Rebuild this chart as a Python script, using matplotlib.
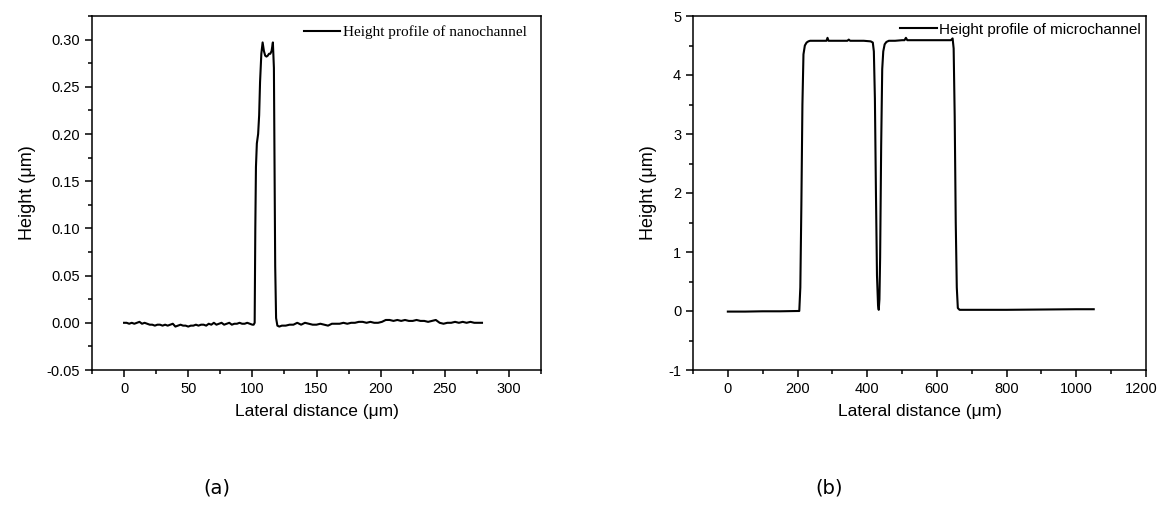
import matplotlib
matplotlib.use("Agg")
import matplotlib.pyplot as plt
from matplotlib.ticker import MultipleLocator, FormatStrFormatter, FuncFormatter

# ---------------- data ----------------
nano_x = [0, 2, 4, 6, 8, 10, 12, 14, 16, 18, 20, 22, 24, 26, 28, 30, 32, 34, 36, 38,
          40, 42, 44, 46, 48, 50, 52, 54, 56, 58, 60, 62, 64, 66, 68, 70, 72, 74, 76, 78,
          80, 82, 84, 86, 88, 90, 92, 94, 96, 98, 100,
          101, 101.8, 102.3, 102.8, 103.5, 104.5, 105.3, 106, 107, 108, 109, 110, 111, 112,
          113, 114, 115, 116, 116.8, 117.3, 117.8, 118.5, 119.5, 121, 123,
          126, 129, 132, 135, 138, 141, 144, 147, 150, 153, 156, 159, 162, 165, 168, 171,
          174, 177, 180, 183, 186, 189, 192, 195, 198, 201, 204, 207, 210, 213, 216, 219,
          222, 225, 228, 231, 234, 237, 240, 243, 246, 249, 252, 255, 258, 261, 264, 267,
          270, 273, 276, 279]
nano_y = [0.000, 0.000, -0.001, 0.000, -0.001, 0.000, 0.001, -0.001, 0.000, -0.001,
          -0.002, -0.002, -0.003, -0.002, -0.002, -0.003, -0.002, -0.003, -0.002, -0.001,
          -0.004, -0.003, -0.002, -0.003, -0.003, -0.004, -0.003, -0.003, -0.002, -0.003,
          -0.002, -0.002, -0.003, -0.001, -0.002, 0.000, -0.002, -0.001, 0.000, -0.002,
          -0.001, 0.000, -0.002, -0.001, -0.001, 0.000, -0.001, -0.001, 0.000, -0.001, -0.002,
          -0.002, 0.000, 0.100, 0.165, 0.190, 0.200, 0.220, 0.255, 0.285, 0.297, 0.288,
          0.283, 0.282, 0.283, 0.285, 0.285, 0.288, 0.297, 0.270, 0.170, 0.060, 0.005,
          -0.003, -0.004, -0.003,
          -0.003, -0.002, -0.002, 0.000, -0.002, 0.000, -0.001, -0.002, -0.002, -0.001,
          -0.002, -0.003, -0.001, -0.001, -0.001, 0.000, -0.001, 0.000, 0.000, 0.001,
          0.001, 0.000, 0.001, 0.000, 0.000, 0.001, 0.003, 0.003, 0.002, 0.003, 0.002,
          0.003, 0.002, 0.002, 0.003, 0.002, 0.002, 0.001, 0.002, 0.003, 0.000, -0.001,
          0.000, 0.000, 0.001, 0.000, 0.001, 0.000, 0.001, 0.000, 0.000, 0.000]

micro_x = [0, 50, 100, 150, 200, 205, 208, 211, 214, 217, 221, 226, 231, 236, 250, 270,
           283, 286, 289, 300, 320, 343, 347, 351, 370, 390, 410, 416, 419, 422, 425, 428,
           431, 433, 435, 437, 440, 443, 446, 450, 455, 462, 480, 500, 507, 511, 515, 540,
           580, 620, 640, 645, 648, 651, 654, 657, 660, 665, 700, 800, 900, 1000, 1050]
micro_y = [-0.01, -0.01, -0.005, -0.005, 0.0, 0.0, 0.4, 1.8, 3.5, 4.35, 4.5, 4.55, 4.57,
           4.58, 4.58, 4.58, 4.58, 4.63, 4.58, 4.58, 4.58, 4.58, 4.60, 4.58, 4.58, 4.58,
           4.57, 4.55, 4.4, 3.6, 2.0, 0.6, 0.1, 0.02, 0.2, 0.9, 2.8, 4.1, 4.4, 4.52, 4.56,
           4.58, 4.58, 4.59, 4.59, 4.63, 4.59, 4.59, 4.59, 4.59, 4.59, 4.62, 4.45, 3.3, 1.5,
           0.4, 0.05, 0.02, 0.02, 0.02, 0.025, 0.03, 0.03]

nano_label = "Height profile of nanochannel"
micro_label = "Height profile of microchannel"
xlabel = "Lateral distance (\u03bcm)"
ylabel = "Height (\u03bcm)"
captions = ["(a)", "(b)"]
micro_xmax = 1200

# ---------------- figure ----------------
W, H = 1159, 523
fig = plt.figure(figsize=(W / 100, H / 100), dpi=100)
plt.rcParams['font.family'] = ['Liberation Sans', 'DejaVu Sans']
plt.rcParams['axes.unicode_minus'] = False


def box(x0, y0, x1, y1):
    return [x0 / W, 1 - y1 / H, (x1 - x0) / W, (y1 - y0) / H]


axA = fig.add_axes(box(92, 16, 541, 370))
axB = fig.add_axes(box(693, 16, 1146, 370))

lnA, = axA.plot(nano_x, nano_y, color='black', lw=1.5)
lnB, = axB.plot(micro_x, micro_y, color='black', lw=1.5)

axA.set_xlim(-25, 325)
axA.set_ylim(-0.05, 0.325)
axA.xaxis.set_major_locator(MultipleLocator(50))
axA.xaxis.set_minor_locator(MultipleLocator(25))
axA.yaxis.set_major_locator(MultipleLocator(0.05))
axA.yaxis.set_minor_locator(MultipleLocator(0.025))
axA.yaxis.set_major_formatter(FormatStrFormatter('%.2f'))

axB.set_xlim(-100, micro_xmax)
axB.set_ylim(-1, 5)
axB.xaxis.set_major_locator(MultipleLocator(200))
axB.xaxis.set_minor_locator(MultipleLocator(100))
axB.yaxis.set_major_locator(MultipleLocator(1))
axB.yaxis.set_minor_locator(MultipleLocator(0.5))
# last label is drawn separately (nudged left so it stays inside the figure)
axB.xaxis.set_major_formatter(FuncFormatter(
    lambda v, p: '' if abs(v - micro_xmax) < 1e-6 else f'{v:.0f}'))

for ax in (axA, axB):
    for s in ax.spines.values():
        s.set_linewidth(1.1)
    ax.tick_params(which='major', direction='out', length=5, width=1.1,
                   labelsize=10.5, top=False, right=False)
    ax.tick_params(which='minor', direction='out', length=3, width=1.1,
                   top=False, right=False)
    ax.set_xlabel(xlabel, fontsize=12.5, labelpad=6)
    ax.set_ylabel(ylabel, fontsize=13, labelpad=8)

axB.annotate(f'{micro_xmax}', xy=(micro_xmax, 0), xycoords=('data', 'axes fraction'),
             xytext=(-3.5, -8.6), textcoords='offset points', ha='center', va='top',
             fontsize=10.5, annotation_clip=False)

axA.legend([lnA], [nano_label], loc='upper right', frameon=False,
           prop={'family': 'Liberation Serif', 'size': 11},
           handlelength=2.4, handletextpad=0.15, borderaxespad=0.1,
           bbox_to_anchor=(0.985, 0.995))
axB.legend([lnB], [micro_label], loc='upper right', frameon=False,
           prop={'family': 'Liberation Sans', 'size': 11},
           handlelength=2.4, handletextpad=0.15, borderaxespad=0.1,
           bbox_to_anchor=(1.005, 1.003))

fig.text(217 / W, 1 - 488 / H, captions[0], ha='center', va='center',
         fontsize=14, family='DejaVu Sans')
fig.text(829 / W, 1 - 488 / H, captions[1], ha='center', va='center',
         fontsize=14, family='DejaVu Sans')

fig.savefig('out.png', dpi=100)
